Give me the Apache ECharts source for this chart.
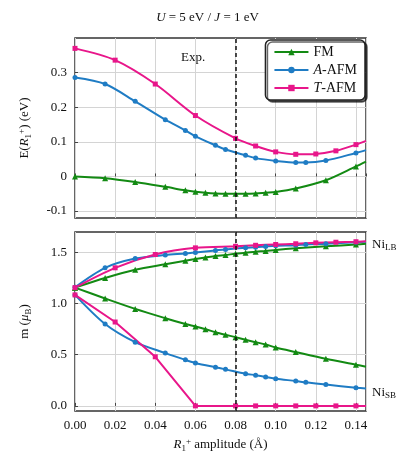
<!DOCTYPE html>
<html>
<head>
<meta charset="utf-8">
<script src="https://cdn.jsdelivr.net/npm/echarts@6/dist/echarts.min.js"></script>
<style>html,body{margin:0;padding:0;background:#fff}#c{width:415px;height:460px}</style>
</head>
<body>
<div id="c"></div>
<script>
// x positions of computed points
var xFM = [0, 0.015, 0.03, 0.045, 0.055, 0.06, 0.065, 0.07, 0.075, 0.08, 0.085, 0.09, 0.095, 0.1, 0.11, 0.125, 0.14, 0.145];
var xA = [0, 0.015, 0.03, 0.045, 0.055, 0.06, 0.07, 0.075, 0.085, 0.09, 0.095, 0.1, 0.11, 0.115, 0.125, 0.14, 0.145];
var xT = [0, 0.02, 0.04, 0.06, 0.08, 0.09, 0.1, 0.11, 0.12, 0.13, 0.14, 0.145];
var xAtop = [0, 0.015, 0.03, 0.045, 0.055, 0.06, 0.07, 0.075, 0.085, 0.09, 0.1, 0.11, 0.115, 0.125, 0.14, 0.145];

// energies (eV)
var eFM = [0, -0.005, -0.016, -0.03, -0.04, -0.044, -0.047, -0.049, -0.05, -0.05, -0.05, -0.049, -0.047, -0.045, -0.035, -0.011, 0.029, 0.043];
var eA = [0.286, 0.267, 0.217, 0.164, 0.133, 0.116, 0.09, 0.078, 0.061, 0.053, 0.045, 0.04, 0.04, 0.046, 0.068, 0.076];
var eT = [0.37, 0.336, 0.267, 0.176, 0.11, 0.088, 0.071, 0.064, 0.065, 0.074, 0.092, 0.103];

// magnetic moments (mu_B), LB = large bond, SB = small bond
var mFM_LB = [1.156, 1.25, 1.33, 1.385, 1.42, 1.435, 1.45, 1.465, 1.475, 1.488, 1.497, 1.508, 1.515, 1.525, 1.54, 1.56, 1.578, 1.585];
var mFM_SB = [1.156, 1.05, 0.948, 0.857, 0.8, 0.776, 0.75, 0.72, 0.695, 0.672, 0.646, 0.623, 0.6, 0.571, 0.526, 0.46, 0.403, 0.383];
var mA_LB = [1.16, 1.35, 1.44, 1.475, 1.49, 1.5, 1.52, 1.53, 1.545, 1.55, 1.558, 1.565, 1.57, 1.578, 1.585, 1.6, 1.605];
var mA_SB = [1.085, 0.8, 0.623, 0.516, 0.45, 0.42, 0.377, 0.357, 0.315, 0.3, 0.283, 0.266, 0.243, 0.23, 0.208, 0.178, 0.169];
var mT_LB = [1.156, 1.35, 1.48, 1.545, 1.56, 1.57, 1.578, 1.585, 1.594, 1.6, 1.605, 1.61];
var mT_SB = [1.085, 0.82, 0.48, 0, 0, 0, 0, 0, 0, 0, 0, 0];

var xExp = 0.077;
var eTicks = [-0.1, 0, 0.1, 0.2, 0.3];
var mTicks = [0, 0.5, 1.0, 1.5];

var GREEN = '#138a13', BLUE = '#1f7cc4', PINK = '#e8168a';
var FONT = 'Liberation Serif';
var RICH = {
  n: {fontFamily: FONT, fontSize: 13, color: '#111'},
  i: {fontFamily: FONT, fontSize: 13, fontStyle: 'italic', color: '#111'},
  sub: {fontFamily: FONT, fontSize: 9, color: '#111', padding: [7, 0, 0, 0]},
  sup: {fontFamily: FONT, fontSize: 9, color: '#111', padding: [0, 0, 7, 0]}
};

function pts(xs, ys) {
  return xs.map(function (x, i) {
    var p = {value: [x, ys[i]]};
    if (i === xs.length - 1) p.symbol = 'none';
    return p;
  });
}
function ser(name, xs, ys, color, sym, gi, withLine, straight) {
  var s = {
    name: name, type: 'line', xAxisIndex: gi, yAxisIndex: gi,
    data: pts(xs, ys), smooth: straight ? false : 0.3, symbol: sym, symbolSize: sym === 'triangle' ? 6 : 5,
    lineStyle: {color: color, width: 2}, itemStyle: {color: color}, z: 3
  };
  if (withLine) {
    s.markLine = {silent: true, symbol: 'none', label: {show: false},
      lineStyle: {color: '#111', type: [4, 3], width: 1.5}, data: [{xAxis: xExp}]};
  }
  return s;
}
function xAx(gi, showLabels) {
  return {
    type: 'value', gridIndex: gi, min: 0, max: 0.145, interval: 0.02,
    axisLine: {show: false}, axisTick: {show: true, inside: true, length: 3, lineStyle: {color: '#444'}},
    axisLabel: {show: showLabels, color: '#111', fontFamily: FONT, fontSize: 13, showMaxLabel: false,
      formatter: function (v) { return v.toFixed(2); }},
    splitLine: {lineStyle: {color: '#d4d4d4'}},
    name: showLabels ? '{i|R}{sub|1}{sup|+}{n| amplitude (Å)}' : '', nameLocation: 'middle', nameGap: 26,
    nameTextStyle: {fontFamily: FONT, fontSize: 13, color: '#111', rich: RICH}
  };
}
function yAx(gi, min, max, ticks, dec, name) {
  return {
    type: 'value', gridIndex: gi, min: min, max: max,
    axisLine: {show: false},
    axisTick: {show: true, inside: true, length: 3, customValues: ticks, lineStyle: {color: '#444'}},
    axisLabel: {customValues: ticks, color: '#111', fontFamily: FONT, fontSize: 13,
      formatter: function (v) { return dec ? v.toFixed(dec) : String(Math.round(v * 10) / 10); }},
    splitLine: {lineStyle: {color: '#d4d4d4'}},
    name: name, nameLocation: 'middle', nameGap: 42, nameRotate: 90,
    nameTextStyle: {fontFamily: FONT, fontSize: 13, color: '#111', rich: RICH}
  };
}

var chart = echarts.init(document.getElementById('c'));
chart.setOption({
  animation: false,
  title: {text: '{i|U}{n| = 5 eV / }{i|J}{n| = 1 eV}', left: 'center', top: 6,
    textStyle: {fontWeight: 'normal', rich: RICH}},
  grid: [
    {left: 75, right: 49, top: 38, height: 180, show: true, borderColor: '#333', borderWidth: 1.5, backgroundColor: 'transparent'},
    {left: 75, right: 49, top: 232, height: 179, show: true, borderColor: '#333', borderWidth: 1.5, backgroundColor: 'transparent'}
  ],
  xAxis: [xAx(0, false), xAx(1, true)],
  yAxis: [
    yAx(0, -0.12, 0.4, eTicks, 0, '{n|E(}{i|R}{sub|1}{sup|+}{n|) (eV)}'),
    yAx(1, -0.05, 1.7, mTicks, 1, '{n|m (}{i|μ}{sub|B}{n|)}')
  ],
  legend: {
    right: 50, top: 40, orient: 'vertical', itemGap: 4, itemWidth: 34, itemHeight: 8,
    backgroundColor: '#fff', borderColor: '#222', borderWidth: 1.5, borderRadius: 5,
    padding: [5, 8, 5, 8], shadowColor: 'rgba(0,0,0,0.6)', shadowOffsetX: 2, shadowOffsetY: 2, shadowBlur: 0,
    data: ['FM', 'A-AFM', 'T-AFM'],
    formatter: function (n) {
      if (n === 'FM') return '{n|FM}';
      return '{i|' + n.charAt(0) + '}{n|' + n.slice(1) + '}';
    },
    textStyle: {rich: {n: {fontFamily: FONT, fontSize: 14, color: '#111'},
      i: {fontFamily: FONT, fontSize: 14, fontStyle: 'italic', color: '#111'}}}
  },
  graphic: [
    {type: 'text', left: 181, top: 51, style: {text: 'Exp.', font: '13px "Liberation Serif"', fill: '#111'}},
    {type: 'text', left: 372, top: 238, style: {text: '{n|Ni}{s|LB}', rich: {
      n: {fontFamily: FONT, fontSize: 13, fill: '#111'}, s: {fontFamily: FONT, fontSize: 9, fill: '#111', padding: [6, 0, 0, 0]}}}},
    {type: 'text', left: 372, top: 386, style: {text: '{n|Ni}{s|SB}', rich: {
      n: {fontFamily: FONT, fontSize: 13, fill: '#111'}, s: {fontFamily: FONT, fontSize: 9, fill: '#111', padding: [6, 0, 0, 0]}}}}
  ],
  series: [
    ser('FM', xFM, eFM, GREEN, 'triangle', 0, true),
    ser('A-AFM', xAtop, eA, BLUE, 'circle', 0, false),
    ser('T-AFM', xT, eT, PINK, 'rect', 0, false),
    ser('FM', xFM, mFM_LB, GREEN, 'triangle', 1, true),
    ser('FM', xFM, mFM_SB, GREEN, 'triangle', 1, false),
    ser('A-AFM', xA, mA_LB, BLUE, 'circle', 1, false),
    ser('A-AFM', xA, mA_SB, BLUE, 'circle', 1, false),
    ser('T-AFM', xT, mT_LB, PINK, 'rect', 1, false),
    ser('T-AFM', xT, mT_SB, PINK, 'rect', 1, false, true)
  ]
});
</script>
</body>
</html>
